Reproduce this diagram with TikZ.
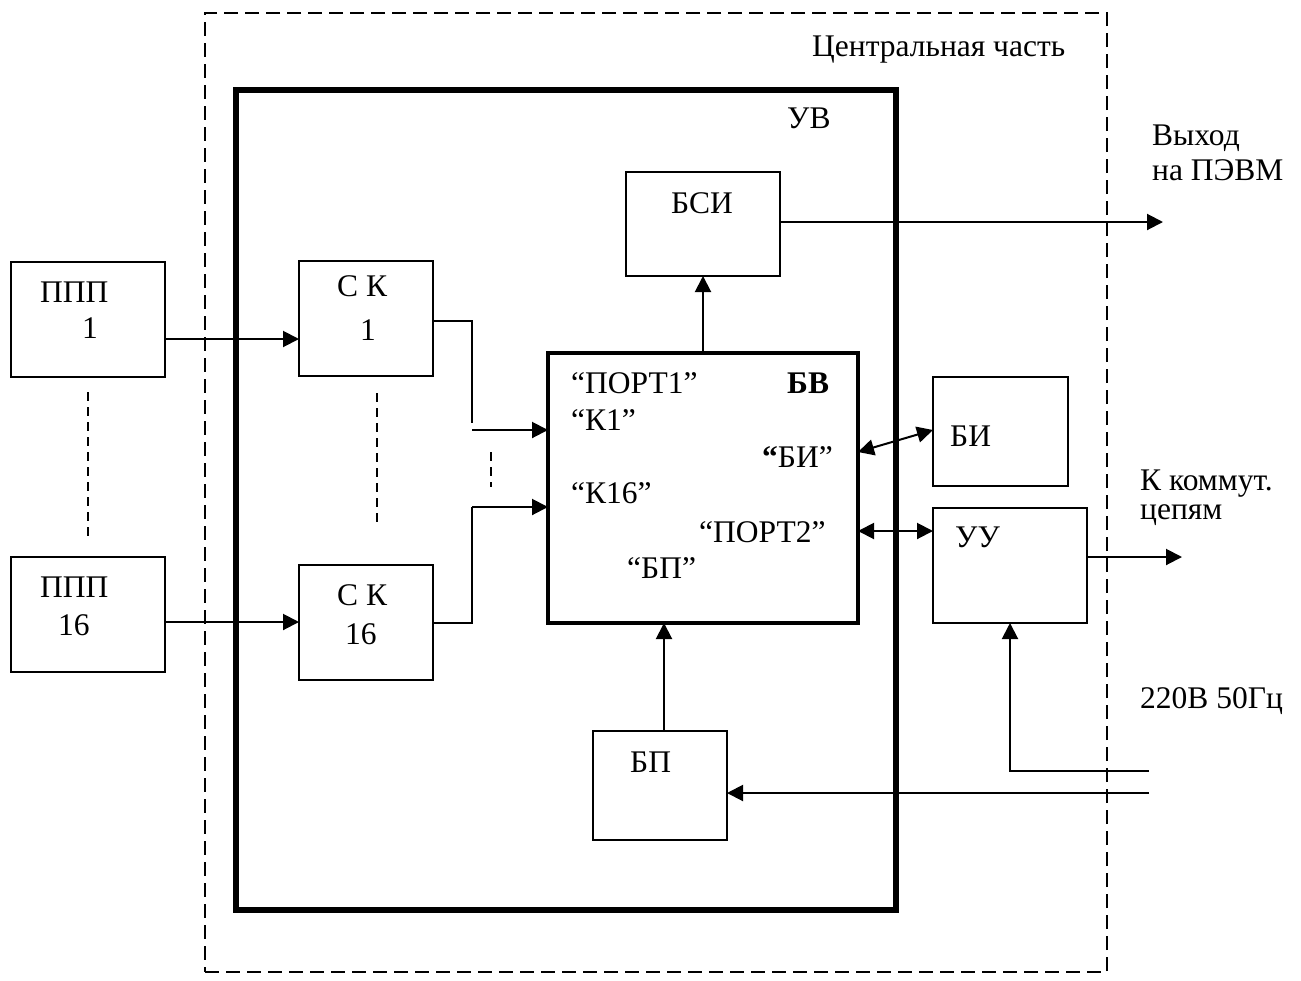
\documentclass[tikz,border=0pt]{standalone}
\usepackage{fontspec}
\setmainfont{Liberation Serif}
\usetikzlibrary{arrows.meta}
\begin{document}
\begin{tikzpicture}[x=1pt,y=-1pt,
  box/.style={draw, line width=2pt, anchor=north west, inner sep=0pt, outer sep=0pt},
  lbl/.style={anchor=base west, inner sep=0pt, font=\fontsize{31.5}{37}\selectfont},
  conn/.style={line width=2pt},
  arr/.style={conn, -{Triangle[length=16pt,width=16pt]}},
  darr/.style={conn, {Triangle[length=16pt,width=16pt]}-{Triangle[length=16pt,width=16pt]}},
  outerdash/.style={dash pattern=on 14pt off 7pt},
  shortdash/.style={conn, dash pattern=on 9pt off 6pt}]
\useasboundingbox (0,0) rectangle (1301,980);

% frames
\node[box, outerdash, minimum width=902pt, minimum height=959pt] (central) at (205,13) {};
\node[box, line width=5.5pt, minimum width=660pt, minimum height=820pt] (uv) at (236,90) {};

% boxes
\node[box, minimum width=154pt, minimum height=115pt] (ppp1) at (11,262) {};
\node[box, minimum width=154pt, minimum height=115pt] (ppp16) at (11,557) {};
\node[box, minimum width=134pt, minimum height=115pt] (sk1) at (299,261) {};
\node[box, minimum width=134pt, minimum height=115pt] (sk16) at (299,565) {};
\node[box, minimum width=154pt, minimum height=104pt] (bsi) at (626,172) {};
\node[box, line width=3.5pt, minimum width=310pt, minimum height=270pt] (bv) at (548,353) {};
\node[box, minimum width=135pt, minimum height=109pt] (bi) at (933,377) {};
\node[box, minimum width=154pt, minimum height=115pt] (uu) at (933,508) {};
\node[box, minimum width=134pt, minimum height=109pt] (bp) at (593,731) {};

% labels
\node[lbl] (tcent) at (812,56) {Центральная часть};
\node[lbl] (tuv) at (787,128) {УВ};
\node[lbl] (tvyh1) at (1152,145) {Выход};
\node[lbl] (tvyh2) at (1152,180) {на ПЭВМ};
\node[lbl] (tbsi) at (671,213) {БСИ};
\node[lbl] (tppp1a) at (40,302) {ППП};
\node[lbl] (tppp1b) at (82,338) {1};
\node[lbl] (tppp16a) at (40,597) {ППП};
\node[lbl] (tppp16b) at (58,635) {16};
\node[lbl] (tsk1a) at (337,296) {С К};
\node[lbl] (tsk1b) at (360,340) {1};
\node[lbl] (tsk16a) at (337,605) {С К};
\node[lbl] (tsk16b) at (345,644) {16};
\node[lbl] (tport1) at (571,393) {“ПОРТ1”};
\node[lbl, font=\fontsize{31.5}{37}\selectfont\bfseries] (tbv) at (787,393) {БВ};
\node[lbl] (tk1) at (571,430) {“К1”};
\node[lbl] (tbiq) at (762,467) {\textbf{“}БИ”};
\node[lbl] (tk16) at (571,503) {“К16”};
\node[lbl] (tport2) at (699,542) {“ПОРТ2”};
\node[lbl] (tbpq) at (627,578) {“БП”};
\node[lbl] (tbi) at (950,446) {БИ};
\node[lbl] (tuu) at (955,547) {УУ};
\node[lbl] (tbp) at (630,772) {БП};
\node[lbl] (tkk1) at (1140,490) {К коммут.};
\node[lbl] (tkk2) at (1140,519) {цепям};
\node[lbl] (t220) at (1140,708) {220В 50Гц};

% free ends
\coordinate (outpc) at (1163,222);
\coordinate (outkk) at (1182,557);
\coordinate (pw1) at (1149,771);
\coordinate (pw2) at (1149,793);

% connectors
\draw[arr] (ppp1.east |- 0,339) -- (sk1.west |- 0,339);
\draw[arr] (ppp16.east |- 0,622) -- (sk16.west |- 0,622);
\draw[conn] (sk1.east |- 0,321) -- (472,321) -- (472,423);
\draw[arr] (472,430) -- (bv.west |- 0,430);
\draw[conn] (sk16.east |- 0,623) -- (472,623) -- (472,507);
\draw[arr] (472,507) -- (bv.west |- 0,507);
\draw[shortdash] (491,452) -- (491,487);
\draw[shortdash] (377,393) -- (377,527);
\draw[shortdash] (88,392) -- (88,538);
\draw[arr] (bv.north -| 703,0) -- (bsi.south -| 703,0);
\draw[arr] (bsi.east |- outpc) -- (outpc);
\draw[darr] (bv.east |- 0,452) -- (bi.west |- 0,430);
\draw[darr] (bv.east |- 0,531) -- (uu.west |- 0,531);
\draw[arr] (uu.east |- outkk) -- (outkk);
\draw[arr] (bp.north -| 664,0) -- (bv.south -| 664,0);
\draw[arr] (pw1) -- (1010,771) -- (uu.south -| 1010,0);
\draw[arr] (pw2) -- (bp.east |- pw2);
\end{tikzpicture}
\end{document}
